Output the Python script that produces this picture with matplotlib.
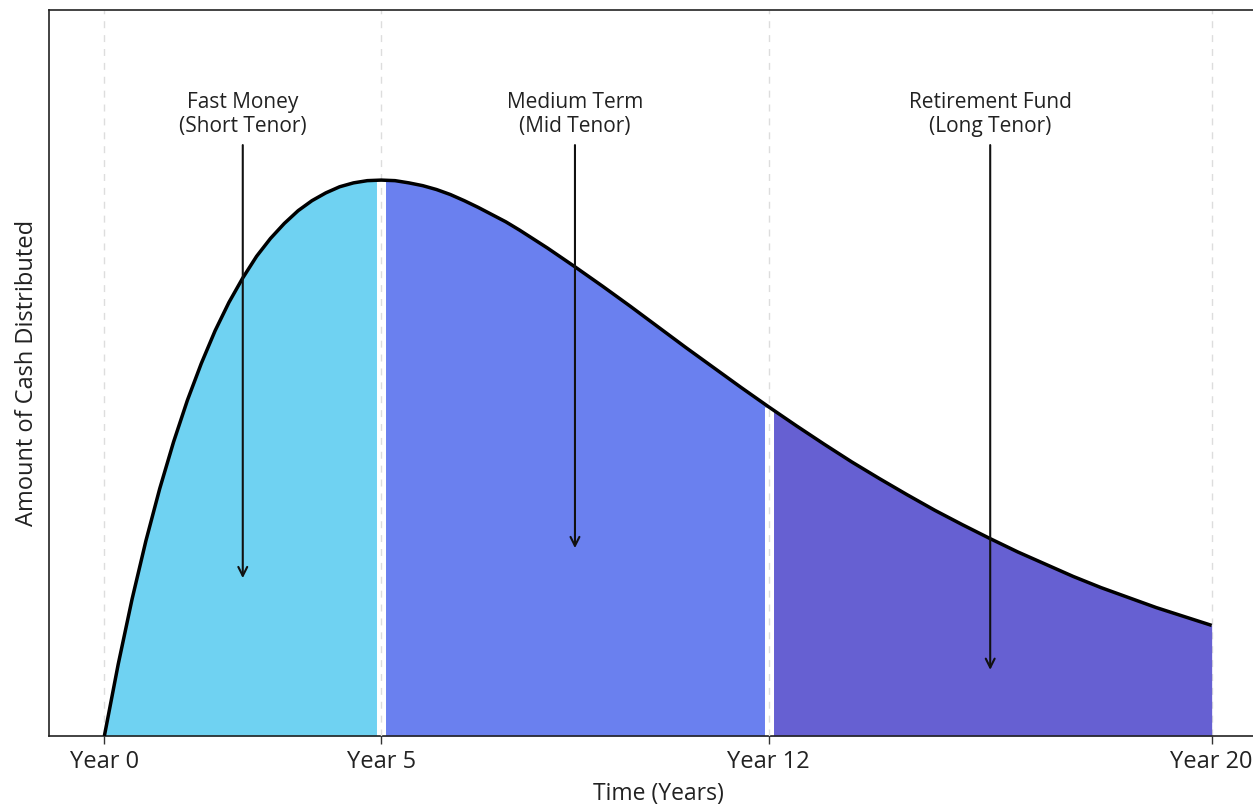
import numpy as np
import matplotlib.pyplot as plt

plt.rcParams['font.family'] = ['Open Sans', 'DejaVu Sans']

# curve (years, relative cash amount, peak = 1)
years = [0.0, 0.25, 0.5, 0.75, 1.0, 1.25, 1.5, 1.75, 2.0, 2.25, 2.5, 2.75, 3.0,
         3.25, 3.5, 3.75, 4.0, 4.25, 4.5, 4.75, 5.0, 5.25, 5.5, 5.75, 6.0, 6.25,
         6.5, 6.75, 7.0, 7.25, 7.5, 7.75, 8.0, 8.5, 9.0, 9.5, 10.0, 10.5, 11.0,
         11.5, 12.0, 12.5, 13.0, 13.5, 14.0, 14.5, 15.0, 15.5, 16.0, 16.5, 17.0,
         17.5, 18.0, 18.5, 19.0, 19.5, 20.0]
cash = [0.0, 0.129, 0.246, 0.351, 0.445, 0.529, 0.604, 0.670, 0.729, 0.780, 0.824,
        0.863, 0.895, 0.922, 0.945, 0.963, 0.977, 0.988, 0.995, 0.999, 1.0, 0.999,
        0.995, 0.990, 0.983, 0.974, 0.963, 0.951, 0.938, 0.925, 0.910, 0.894, 0.878,
        0.844, 0.809, 0.773, 0.736, 0.699, 0.663, 0.627, 0.592, 0.558, 0.525, 0.493,
        0.463, 0.434, 0.406, 0.380, 0.355, 0.331, 0.309, 0.287, 0.267, 0.249, 0.231,
        0.215, 0.199]

tick_years = [0, 5, 12, 20]
tick_labels = ['Year 0', 'Year 5', 'Year 12', 'Year 20']

segments = [(0, 5), (5, 12), (12, 20)]
segment_colors = ['#6fd2f2', '#6a80ef', '#6660d2']

labels = ['Fast Money\n(Short Tenor)', 'Medium Term\n(Mid Tenor)', 'Retirement Fund\n(Long Tenor)']
label_x = [2.5, 8.5, 16.0]
arrow_tip = [0.284, 0.338, 0.119]

x = np.array(years)
y = np.array(cash)

fig = plt.figure(figsize=(12.53, 8.05), dpi=100)
ax = fig.add_axes([0.0391, 0.0857, 0.9721, 0.9019])

# filled tenor segments
for (a, b), c in zip(segments, segment_colors):
    m = (x >= a) & (x <= b)
    ax.fill_between(x, 0, y, where=m, color=c, lw=0, zorder=2)

# white separators at the segment boundaries (grid still shows through)
for a, _ in segments[1:]:
    top = y[years.index(a)]
    ax.vlines(a, 0, top, color='white', lw=6.5, zorder=2.5)
    ax.vlines(a, 0, top, color='#dddddd', lw=1, linestyles=(0, (5, 5)), zorder=2.6)

ax.plot(x, y, color='black', lw=2.5, zorder=3, solid_joinstyle='round',
        solid_capstyle='butt')

for txt, lx, tip in zip(labels, label_x, arrow_tip):
    ax.text(lx, 1.078, txt, ha='center', va='bottom', fontsize=15,
            color='#222222', linespacing=1.2)
    ax.annotate('', xy=(lx, tip), xytext=(lx, 1.063),
                arrowprops=dict(arrowstyle='->', lw=1.5, color='#111111',
                                shrinkA=0, shrinkB=0, mutation_scale=16),
                zorder=4)

ax.set_xlim(-1, 21)
ax.set_ylim(0, 1.306)
ax.set_xticks(tick_years)
ax.set_xticklabels(tick_labels, fontsize=17)
ax.set_yticks([])
ax.grid(axis='x', color='#dddddd', linestyle=(0, (5, 5)), lw=1)
ax.set_axisbelow(True)
ax.tick_params(axis='x', length=6, width=1, color='#333333', pad=4, labelcolor='#222222')

for s in ax.spines.values():
    s.set_color('#222222')
    s.set_linewidth(1.2)

ax.set_xlabel('Time (Years)', fontsize=16.5, color='#222222', labelpad=5.5)
ax.set_ylabel('Amount of Cash Distributed', fontsize=17, color='#222222', labelpad=7)

fig.savefig('out.png', dpi=100)
